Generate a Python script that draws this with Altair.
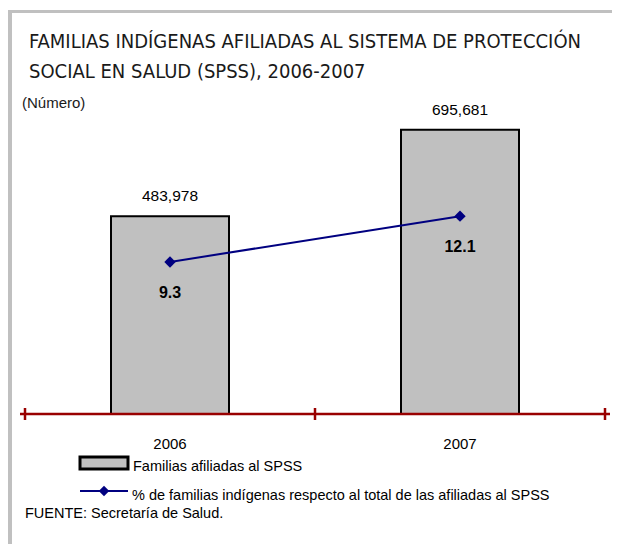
import altair as alt
import pandas as pd

# ---- data ----
years = ["2006", "2007"]
familias = [483978, 695681]
porcentaje = [9.3, 12.1]

title_lines = [
    "FAMILIAS INDÍGENAS AFILIADAS AL SISTEMA DE PROTECCIÓN",
    "SOCIAL EN SALUD (SPSS), 2006-2007",
]
unit_label = "(Número)"
legend_bar_label = "Familias afiliadas al SPSS"
legend_line_label = "% de familias indígenas respecto al total de las afiliadas al SPSS"
source_note = "FUENTE: Secretaría de Salud."

# ---- layout / style ----
W, H = 590, 327
NARROW = "Liberation Sans Narrow, Arial Narrow, DejaVu Sans Condensed, sans-serif"
SANS = "Liberation Sans, Arial, sans-serif"
BAR_FILL = "#c0c0c0"
LINE_COLOR = "#000080"
AXIS_COLOR = "#990000"
FRAME = "#c0c0c0"

df = pd.DataFrame({
    "year": years,
    "pos": [i + 0.5 for i in range(len(years))],
    "fam": familias,
    "pct": porcentaje,
})
df["fam_label"] = [f"{v:,}" for v in familias]
df["pct_label"] = [f"{v:.1f}" for v in porcentaje]

xscale = alt.Scale(domain=[0, len(years)])
x_pos = alt.X("pos:Q", scale=xscale, axis=None)
y_fam = alt.Y("fam:Q", scale=alt.Scale(domain=[0, 800000]), axis=None)
y_pct = alt.Y("pct:Q", scale=alt.Scale(domain=[0, 20]), axis=None)

base = alt.Chart(df)

bars = base.mark_bar(size=118, color=BAR_FILL, stroke="black", strokeWidth=2).encode(
    x=x_pos, y=y_fam
)
bar_text = base.mark_text(
    baseline="alphabetic", dy=-15, font=SANS, fontSize=15.5, color="black"
).encode(x=x_pos, y=y_fam, text="fam_label:N")

line = base.mark_line(color=LINE_COLOR, strokeWidth=2).encode(x=x_pos, y=y_pct)
points = base.mark_point(
    shape="diamond", filled=True, size=130, color=LINE_COLOR, opacity=1
).encode(x=x_pos, y=y_pct)
pct_text = base.mark_text(
    baseline="alphabetic", dy=36, font=SANS, fontSize=16, fontWeight="bold", color="black"
).encode(x=x_pos, y=y_pct, text="pct_label:N")

# category axis drawn as in the reference (ticks between categories)
ticks_df = pd.DataFrame({"b": list(range(len(years) + 1))})
axis_line = alt.Chart(pd.DataFrame({"a": [0]})).mark_rule(
    color=AXIS_COLOR, strokeWidth=2.5
).encode(x=alt.value(0), x2=alt.value(W), y=alt.value(H))
axis_ticks = alt.Chart(ticks_df).mark_rule(color=AXIS_COLOR, strokeWidth=2.5).encode(
    x=alt.X("b:Q", scale=xscale, axis=None), y=alt.value(H - 6), y2=alt.value(H + 6)
)
year_text = base.mark_text(
    baseline="alphabetic", font=SANS, fontSize=15, color="black"
).encode(x=x_pos, y=alt.value(H + 35), text="year:N")


def label(text, x, y, font=SANS, size=14, **kw):
    return alt.Chart(pd.DataFrame({"t": [text]})).mark_text(
        align="left", baseline="alphabetic", font=font, fontSize=size, **kw
    ).encode(x=alt.value(x), y=alt.value(y), text="t:N")


title1 = label(title_lines[0], 9, -39, font=NARROW, size=20, color="#1a1a1a")
title2 = label(title_lines[1], 9, -9, font=NARROW, size=20, color="#1a1a1a")
unit = label(unit_label, 2, 21, size=15, color="#1a1a1a")

one = pd.DataFrame({"a": [0]})
leg_rect = alt.Chart(one).mark_rect(fill=BAR_FILL, stroke="black", strokeWidth=3).encode(
    x=alt.value(60), x2=alt.value(108), y=alt.value(H + 43), y2=alt.value(H + 55)
)
leg_text1 = label(legend_bar_label, 113, H + 57, size=14.5, color="black")
leg_line = alt.Chart(one).mark_rule(color=LINE_COLOR, strokeWidth=2).encode(
    x=alt.value(60), x2=alt.value(108), y=alt.value(H + 77)
)
leg_point = alt.Chart(one).mark_point(
    shape="diamond", filled=True, size=110, color=LINE_COLOR, opacity=1
).encode(x=alt.value(84), y=alt.value(H + 77))
leg_text2 = label(legend_line_label, 112, H + 86, size=14.5, color="black")
source = label(source_note, 5, H + 104, size=14.5, color="black")

frame_left = alt.Chart(one).mark_rect(color=FRAME).encode(
    x=alt.value(-12), x2=alt.value(-8), y=alt.value(-77), y2=alt.value(H + 130)
)
frame_top = alt.Chart(one).mark_rect(color=FRAME).encode(
    x=alt.value(-12), x2=alt.value(W + 2), y=alt.value(-77), y2=alt.value(-74)
)

chart = alt.layer(
    frame_left, frame_top,
    bars, axis_line, axis_ticks, bar_text,
    line, points, pct_text, year_text,
    title1, title2, unit,
    leg_rect, leg_text1, leg_line, leg_point, leg_text2, source,
).resolve_scale(y="independent").properties(
    width=W,
    height=H,
    autosize=alt.AutoSizeParams(type="none"),
    padding={"left": 12, "top": 79, "right": 2, "bottom": 130},
    background="white",
).configure_view(stroke=None)

chart.save("out.html", embed_options={"renderer": "svg", "actions": False})
